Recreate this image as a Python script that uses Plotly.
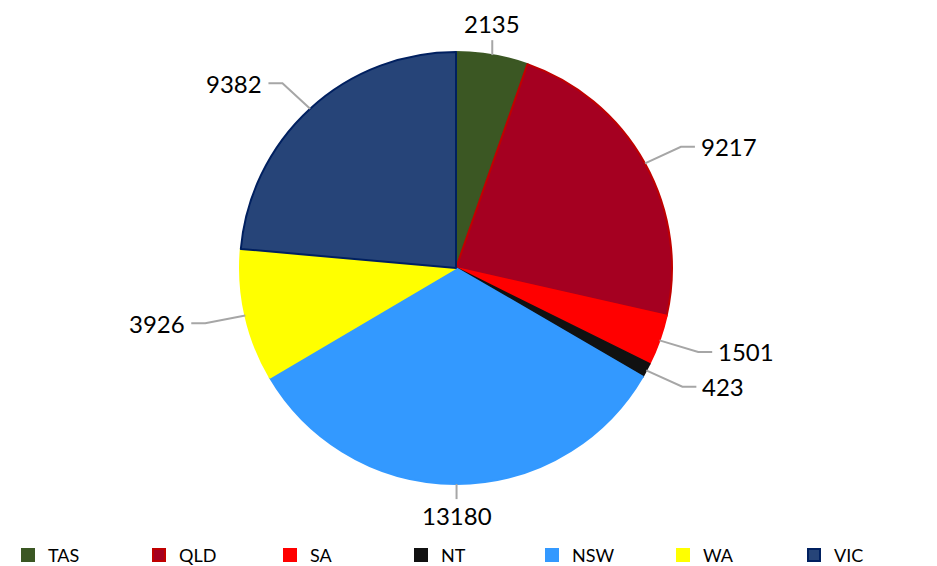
import math
import plotly.graph_objects as go

labels = ["TAS", "QLD", "SA", "NT", "NSW", "WA", "VIC"]
values = [2135, 9217, 1501, 423, 13180, 3926, 9382]
colors = ["#3B5723", "#A50021", "#FF0000", "#111111", "#3399FF", "#FFFF00", "#264478"]
borders = ["#3B5723", "#C00000", "#FF0000", "#111111", "#3399FF", "#FFFF00", "#002060"]

# the page body adds an 8px margin, so size the figure to fill the window exactly
W, H = 929, 558
OFF = 8
CX, CY, R = 456 - OFF, 268 - OFF, 216  # pie centre / radius in figure pixels

dom_x = [(CX - R) / W, (CX + R) / W]
dom_y = [1 - (CY + R) / H, 1 - (CY - R) / H]

fig = go.Figure(go.Pie(
    labels=labels, values=values, sort=False, direction="clockwise", rotation=0,
    marker=dict(colors=colors, line=dict(color=borders, width=2)),
    textinfo="none", hoverinfo="label+value",
    domain=dict(x=dom_x, y=dom_y),
))

FONT = "Lato, 'Open Sans', sans-serif"
total = sum(values)
cum = 0
shapes, annotations = [], []
for lab, v in zip(labels, values):
    mid = (cum + v / 2) / total * 2 * math.pi
    cum += v
    ux, uy = math.sin(mid), math.cos(mid)
    x0, y0 = CX + R * ux, CY - R * uy
    if abs(ux) < 0.25:
        # near top / bottom: vertical leader
        x1, y1 = x0, CY - R * 1.07 * uy
        path = f"M{x0/W},{1-y0/H} L{x1/W},{1-y1/H}"
        annotations.append(dict(x=x1 / W, y=1 - y1 / H, xref="paper", yref="paper",
                                text=str(v), showarrow=False,
                                xanchor="center", yanchor="bottom" if uy > 0 else "top",
                                font=dict(size=24, color="#000", family=FONT)))
    else:
        x1, y1 = CX + R * 1.19 * ux, CY - R * 1.16 * uy
        s = 1 if ux > 0 else -1
        x2 = x1 + s * 14
        path = f"M{x0/W},{1-y0/H} L{x1/W},{1-y1/H} L{x2/W},{1-y1/H}"
        annotations.append(dict(x=(x2 + s * 4) / W, y=1 - y1 / H, xref="paper", yref="paper",
                                text=str(v), showarrow=False,
                                xanchor="left" if s > 0 else "right", yanchor="middle",
                                font=dict(size=24, color="#000", family=FONT)))
    shapes.append(dict(type="path", path=path, xref="paper", yref="paper",
                       line=dict(color="#A6A6A6", width=2)))

fig.update_layout(
    width=W, height=H, margin=dict(l=0, r=0, t=0, b=0, autoexpand=False),
    paper_bgcolor="white", plot_bgcolor="white",
    shapes=shapes, annotations=annotations,
    showlegend=True,
    legend=dict(orientation="h", x=0.0, xanchor="left", y=-0.014, yanchor="bottom",
                entrywidth=86, entrywidthmode="pixels",
                font=dict(size=18, color="#000", family=FONT),
                itemsizing="constant", traceorder="normal"),
)

fig.write_html("out.html")
